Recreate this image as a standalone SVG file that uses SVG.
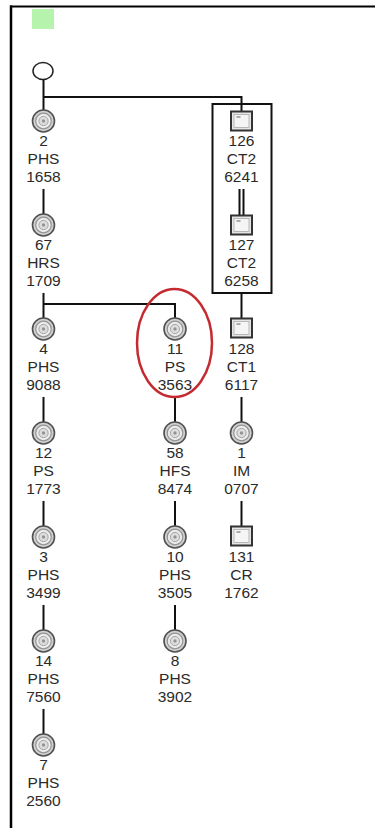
<svg xmlns="http://www.w3.org/2000/svg" width="375" height="828" viewBox="0 0 375 828">
<style>
text{font-family:"Liberation Sans",Arial,sans-serif;font-size:15.5px;fill:#2a2a2a;text-anchor:middle}
.c{stroke:#111;stroke-width:2;fill:none}
</style>
<defs>
<g id="disc">
<circle r="11" fill="#d2d2d2" stroke="#505050" stroke-width="1.6"/>
<circle r="7.8" fill="#ececec" stroke="#939393" stroke-width="1.2"/>
<circle r="4.6" fill="#dedede" stroke="#a5a5a5" stroke-width="1"/>
<circle r="1.7" fill="#949494"/>
</g>
<g id="box">
<rect x="-10.5" y="-9.5" width="21" height="19" fill="#e6e6e6" stroke="#333" stroke-width="2"/>
<rect x="-7.5" y="-6.5" width="15" height="13" fill="#f5f5f5" stroke="#aaa" stroke-width="0.8"/>
<line x1="-5" y1="-4" x2="-1" y2="-4" stroke="#777" stroke-width="1.2"/>
</g>
</defs>
<rect width="375" height="828" fill="#fff"/>
<line x1="10" y1="6.5" x2="375" y2="6.5" stroke="#000" stroke-width="2"/>
<line x1="11" y1="5.5" x2="11" y2="828" stroke="#000" stroke-width="2.5"/>
<rect x="32" y="9" width="22" height="20" fill="#b6f3ad"/>
<g id="connectors">
<path class="c" d="M43.5 79V110"/>
<path class="c" d="M43.5 97H241.5V111"/>
<path class="c" d="M43.5 189V214"/>
<path class="c" d="M43.5 293V318"/>
<path class="c" d="M43.5 304H175V318"/>
<path class="c" d="M43.5 397V422"/>
<path class="c" d="M43.5 501V526"/>
<path class="c" d="M43.5 605V630"/>
<path class="c" d="M43.5 709V734"/>
<path class="c" d="M175 397V422"/>
<path class="c" d="M175 501V526"/>
<path class="c" d="M175 605V630"/>
<path class="c" d="M239.5 189V215M243.5 189V215"/>
<path class="c" d="M241.5 293V319"/>
<path class="c" d="M241.5 397V422"/>
<path class="c" d="M241.5 501V527"/>
</g>
<rect x="212.5" y="104" width="59" height="189" fill="none" stroke="#111" stroke-width="2"/>
<g id="root"><ellipse cx="43" cy="71" rx="10" ry="8.5" fill="#fff" stroke="#222" stroke-width="1.5"/></g>
<g id="n2"><use href="#disc" x="43.5" y="121"/><text x="43.5" y="146">2</text><text x="43.5" y="164">PHS</text><text x="43.5" y="182">1658</text></g>
<g id="n67"><use href="#disc" x="43.5" y="225"/><text x="43.5" y="250">67</text><text x="43.5" y="268">HRS</text><text x="43.5" y="286">1709</text></g>
<g id="n4"><use href="#disc" x="43.5" y="329"/><text x="43.5" y="354">4</text><text x="43.5" y="372">PHS</text><text x="43.5" y="390">9088</text></g>
<g id="n12"><use href="#disc" x="43.5" y="433"/><text x="43.5" y="458">12</text><text x="43.5" y="476">PS</text><text x="43.5" y="494">1773</text></g>
<g id="n3"><use href="#disc" x="43.5" y="537"/><text x="43.5" y="562">3</text><text x="43.5" y="580">PHS</text><text x="43.5" y="598">3499</text></g>
<g id="n14"><use href="#disc" x="43.5" y="641"/><text x="43.5" y="666">14</text><text x="43.5" y="684">PHS</text><text x="43.5" y="702">7560</text></g>
<g id="n7"><use href="#disc" x="43.5" y="745"/><text x="43.5" y="770">7</text><text x="43.5" y="788">PHS</text><text x="43.5" y="806">2560</text></g>
<g id="n11"><use href="#disc" x="175" y="329"/><text x="175" y="354">11</text><text x="175" y="372">PS</text><text x="175" y="390">3563</text></g>
<g id="n58"><use href="#disc" x="175" y="433"/><text x="175" y="458">58</text><text x="175" y="476">HFS</text><text x="175" y="494">8474</text></g>
<g id="n10"><use href="#disc" x="175" y="537"/><text x="175" y="562">10</text><text x="175" y="580">PHS</text><text x="175" y="598">3505</text></g>
<g id="n8"><use href="#disc" x="175" y="641"/><text x="175" y="666">8</text><text x="175" y="684">PHS</text><text x="175" y="702">3902</text></g>
<g id="n126"><use href="#box" x="241.5" y="121"/><text x="241.5" y="146">126</text><text x="241.5" y="164">CT2</text><text x="241.5" y="182">6241</text></g>
<g id="n127"><use href="#box" x="241.5" y="225"/><text x="241.5" y="250">127</text><text x="241.5" y="268">CT2</text><text x="241.5" y="286">6258</text></g>
<g id="n128"><use href="#box" x="241.5" y="328"/><text x="241.5" y="354">128</text><text x="241.5" y="372">CT1</text><text x="241.5" y="390">6117</text></g>
<g id="n1"><use href="#disc" x="241.5" y="433"/><text x="241.5" y="458">1</text><text x="241.5" y="476">IM</text><text x="241.5" y="494">0707</text></g>
<g id="n131"><use href="#box" x="241.5" y="536"/><text x="241.5" y="562">131</text><text x="241.5" y="580">CR</text><text x="241.5" y="598">1762</text></g>
<ellipse cx="174.5" cy="343" rx="37.5" ry="54" fill="none" stroke="#c42a30" stroke-width="2.5"/>
</svg>
